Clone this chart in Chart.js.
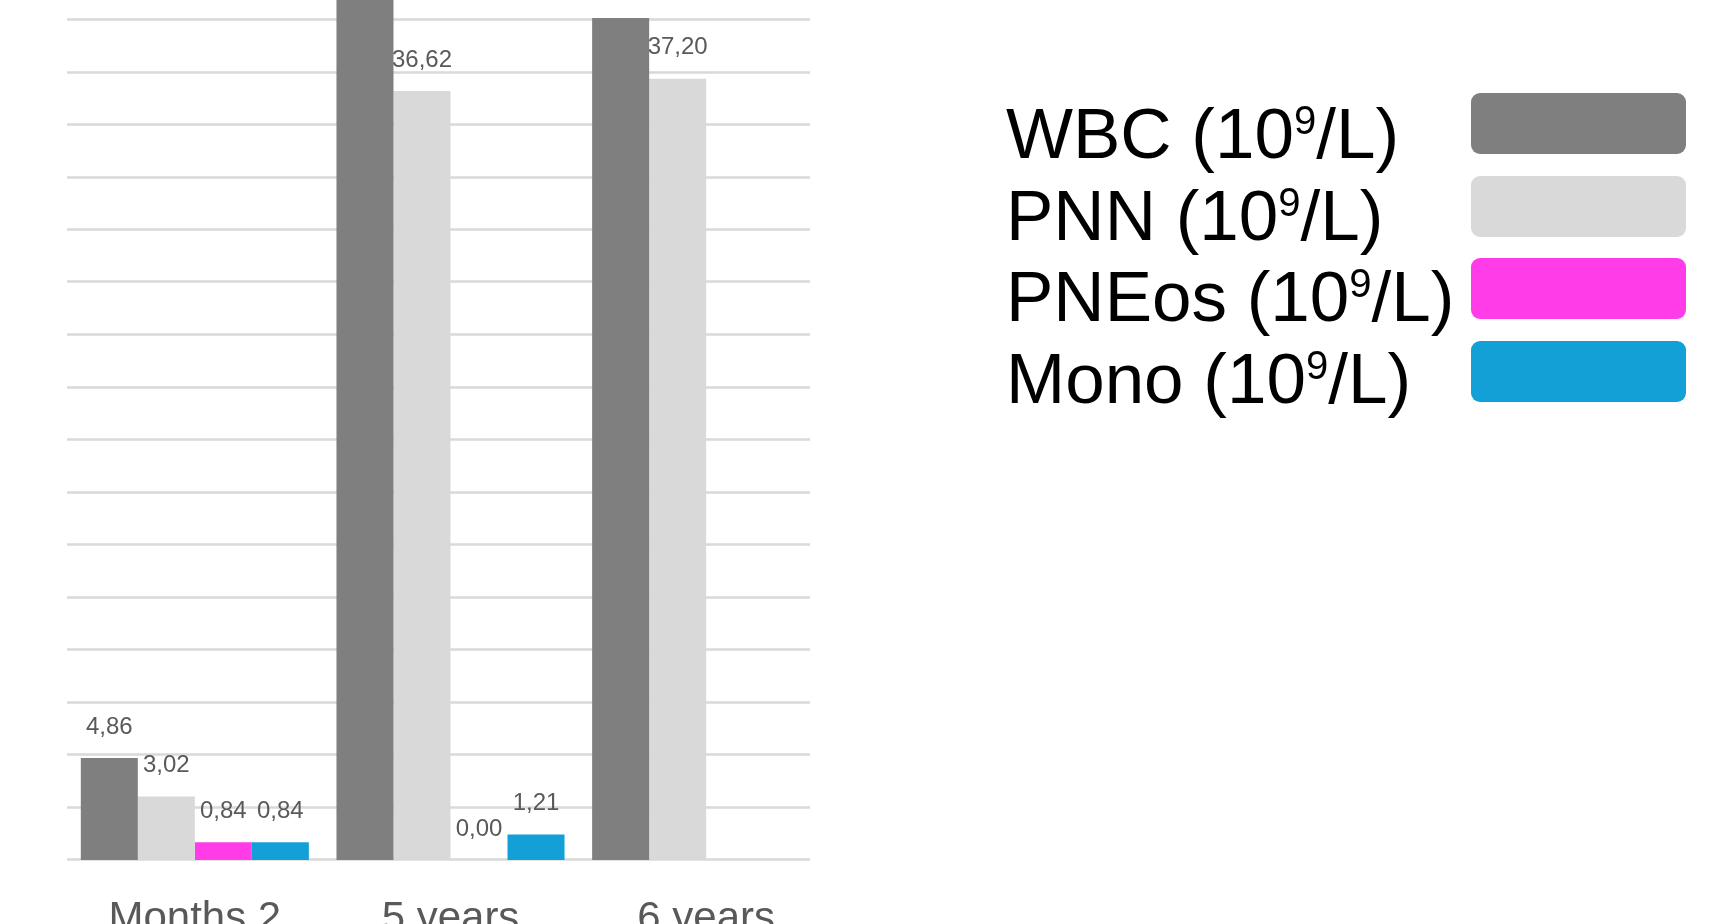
<!DOCTYPE html>
<html><head><meta charset="utf-8">
<script src="https://cdn.jsdelivr.net/npm/chart.js@4.4.0/dist/chart.umd.min.js"></script>
<style>
html,body{margin:0;padding:0;background:#fff;width:1735px;height:924px;overflow:hidden;position:relative;font-family:"Liberation Sans",Arial,sans-serif;}
#c{position:absolute;left:0;top:-190px;}
.lg-text{position:absolute;font-size:71px;line-height:70px;color:#000;white-space:nowrap;}
.lg-text sup{font-size:40px;line-height:0;vertical-align:24px;}
.lg-box{position:absolute;border-radius:9px;}
</style></head><body>
<canvas id="c" width="1735" height="1150"></canvas>
<div id="legend"></div>
<script>
const categories = ['Months 2', '5 years', '6 years'];
const seriesLabels = ['WBC (10⁹/L)', 'PNN (10⁹/L)', 'PNEos (10⁹/L)', 'Mono (10⁹/L)'];
const wbcValues = [4.86, 42.8, 40.1];
const pnnValues = [3.02, 36.62, 37.20];
const pneosValues = [0.84, 0.00, null];
const monoValues = [0.84, 1.21, null];
const seriesColors = ['#7f7f7f', '#d9d9d9', '#ff3ce8', '#12a0d7'];
const yTickStep = 2.5;
const yMax = 50;

const seriesValues = [wbcValues, pnnValues, pneosValues, monoValues];

const gridPlugin = {
  id: 'shortGrid',
  beforeDatasetsDraw(chart) {
    const ys = chart.scales.y, ctx = chart.ctx, area = chart.chartArea;
    ctx.save();
    ctx.strokeStyle = '#d9d9d9';
    ctx.lineWidth = 2.5;
    for (let v = 0; v <= yMax + 1e-9; v += yTickStep) {
      const y = Math.round(ys.getPixelForValue(v)) - 0.5;
      ctx.beginPath();
      ctx.moveTo(area.left, y);
      ctx.lineTo(810, y);
      ctx.stroke();
    }
    ctx.restore();
  }
};

const valueLabels = {
  id: 'valueLabels',
  afterDatasetsDraw(chart) {
    const ctx = chart.ctx;
    ctx.save();
    ctx.font = '24px "Liberation Sans", Arial, sans-serif';
    ctx.fillStyle = '#595959';
    ctx.textAlign = 'center';
    ctx.textBaseline = 'middle';
    chart.data.datasets.forEach((ds, di) => {
      const meta = chart.getDatasetMeta(di);
      meta.data.forEach((el, i) => {
        const v = ds.data[i];
        if (v === null || v === undefined) return;
        ctx.fillText(v.toFixed(2).replace('.', ','), el.x, el.y - 31);
      });
    });
    ctx.restore();
  }
};

const htmlLegend = {
  id: 'htmlLegend',
  afterUpdate(chart) {
    const box = document.getElementById('legend');
    box.innerHTML = '';
    chart.data.datasets.forEach((ds, i) => {
      const t = document.createElement('div');
      t.className = 'lg-text';
      t.style.left = '1006px';
      t.style.top = (99 + i * 81.7) + 'px';
      t.innerHTML = ds.label.replace('⁹', '<sup>9</sup>');
      box.appendChild(t);
      const b = document.createElement('div');
      b.className = 'lg-box';
      b.style.left = '1471px';
      b.style.width = '215px';
      b.style.height = '61px';
      b.style.top = (93 + i * 82.5) + 'px';
      b.style.background = ds.backgroundColor;
      box.appendChild(b);
    });
  }
};

new Chart(document.getElementById('c'), {
  type: 'bar',
  data: {
    labels: categories,
    datasets: seriesLabels.map((lab, i) => ({
      label: lab,
      data: seriesValues[i],
      backgroundColor: seriesColors[i],
      borderWidth: 0,
      barPercentage: 1.0,
      categoryPercentage: 0.892
    }))
  },
  options: {
    responsive: false,
    animation: false,
    devicePixelRatio: 1,
    layout: { padding: { left: 67, right: 901, top: 0, bottom: 0 } },
    plugins: { legend: { display: false }, tooltip: { enabled: false } },
    scales: {
      x: {
        grid: { display: false, drawTicks: false },
        border: { display: false },
        ticks: {
          color: '#595959',
          padding: 34,
          font: { family: '"Liberation Sans", Arial, sans-serif', size: 42 }
        },
        afterFit(scale) { scale.height = 100; }
      },
      y: {
        display: false,
        min: 0,
        max: yMax,
        ticks: { stepSize: yTickStep }
      }
    }
  },
  plugins: [gridPlugin, valueLabels, htmlLegend]
});
</script>
</body></html>
